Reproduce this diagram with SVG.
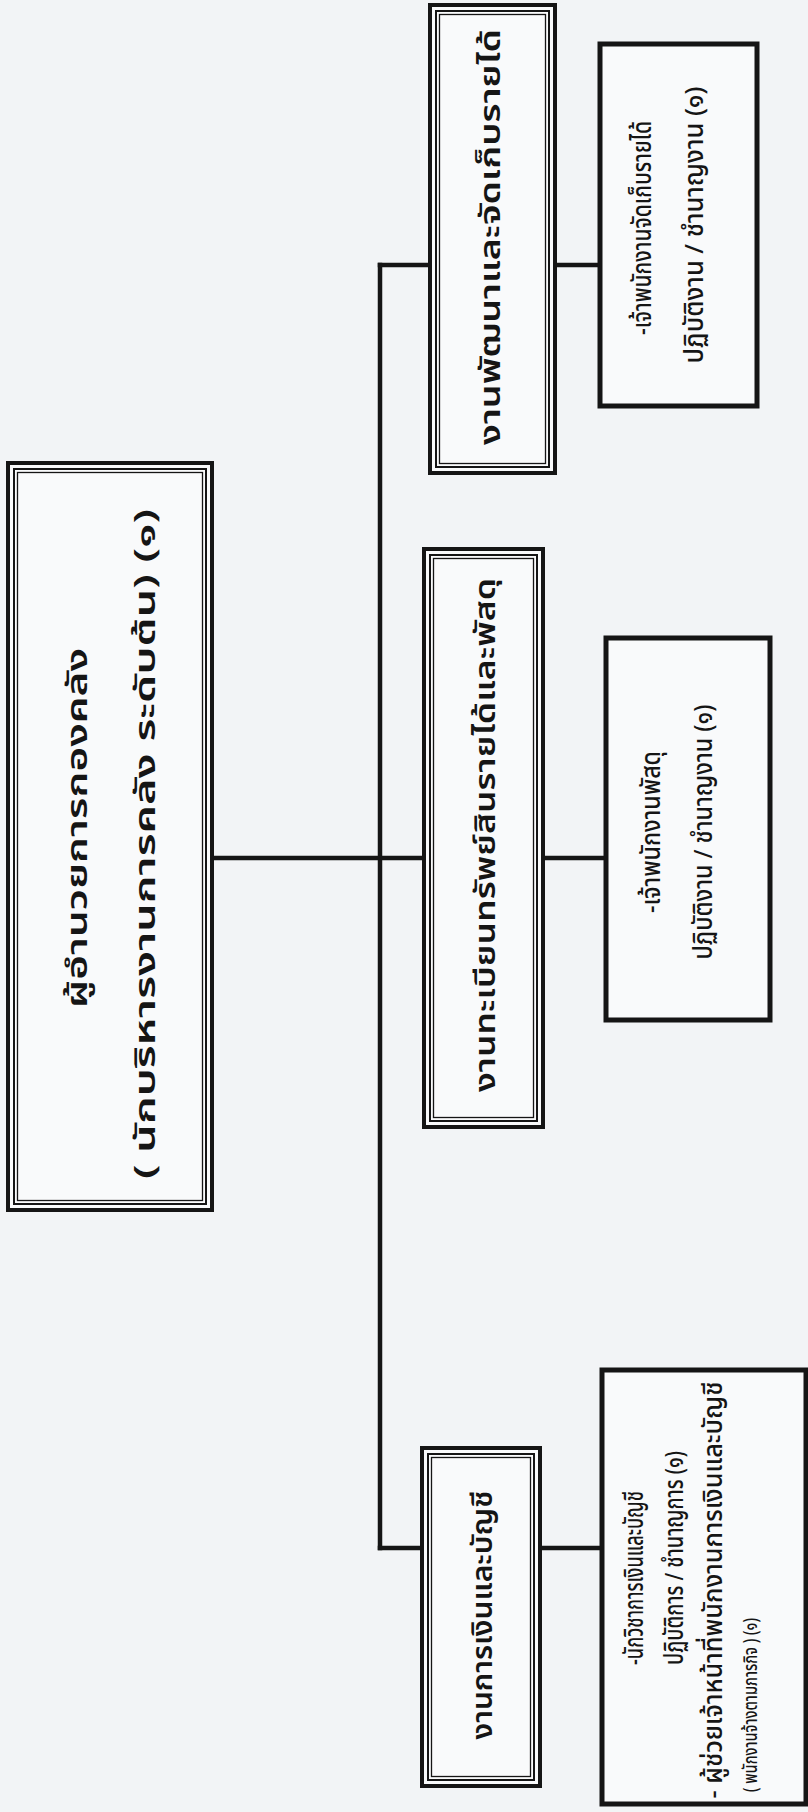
<svg xmlns="http://www.w3.org/2000/svg" width="808" height="1812" viewBox="0 0 808 1812">
<style>
.bg{fill:#f2f4f6}
.o{fill:#f9fafb;stroke:#151515;stroke-width:4}
.m{fill:none;stroke:#151515;stroke-width:2}
.i{fill:none;stroke:#151515;stroke-width:1.3}
.sb{fill:#f9fafb;stroke:#151515;stroke-width:5}
.c{fill:none;stroke:#151515;stroke-width:4.5;stroke-linecap:square}
text{font-family:"Noto Sans Thai","Noto Sans Thai UI","Loma","Garuda","Tlwg Typo","Noto Sans","DejaVu Sans",sans-serif;fill:#151515;text-anchor:middle;dominant-baseline:central}
.t1{font-size:29px;font-weight:600}
.t2{font-size:26px;font-weight:500}
.t3{font-size:19px;font-weight:500}
</style>
<rect class="bg" x="0" y="0" width="808" height="1812"/>
<g id="connectors">
<path class="c" d="M380 265 V1548"/>
<path class="c" d="M380 265 H430"/>
<path class="c" d="M555 265 H600"/>
<path class="c" d="M212 858 H424"/>
<path class="c" d="M543 858 H606"/>
<path class="c" d="M380 1548 H422"/>
<path class="c" d="M540 1548 H602"/>
</g>
<g id="director">
<rect class="o" x="8" y="463" width="204" height="747"/>
<rect class="m" x="14" y="469" width="192" height="735"/>
<rect class="i" x="17.5" y="472.5" width="185" height="728"/>
<text class="t1" transform="translate(78,828) rotate(-90)" textLength="360" lengthAdjust="spacingAndGlyphs">ผู้อำนวยการกองคลัง</text>
<text class="t1" transform="translate(146,844) rotate(-90)" textLength="670" lengthAdjust="spacingAndGlyphs">( นักบริหารงานการคลัง ระดับต้น) (๑)</text>
</g>
<g id="revenue">
<rect class="o" x="430" y="5" width="125" height="468"/>
<rect class="m" x="436" y="11" width="113" height="456"/>
<rect class="i" x="439.5" y="14.5" width="106" height="449"/>
<text class="t1" transform="translate(491,237) rotate(-90)" textLength="416" lengthAdjust="spacingAndGlyphs">งานพัฒนาและจัดเก็บรายได้</text>
</g>
<g id="revenue-staff">
<rect class="sb" x="600" y="44" width="157" height="362"/>
<text class="t2" transform="translate(643,228) rotate(-90)" textLength="214" lengthAdjust="spacingAndGlyphs">-เจ้าพนักงานจัดเก็บรายได้</text>
<text class="t2" transform="translate(695,225) rotate(-90)" textLength="277" lengthAdjust="spacingAndGlyphs">ปฏิบัติงาน / ชำนาญงาน (๑)</text>
</g>
<g id="registry">
<rect class="o" x="424" y="549" width="119" height="578"/>
<rect class="m" x="430" y="555" width="107" height="566"/>
<rect class="i" x="433.5" y="558.5" width="100" height="559"/>
<text class="t1" transform="translate(486,835) rotate(-90)" textLength="514" lengthAdjust="spacingAndGlyphs">งานทะเบียนทรัพย์สินรายได้และพัสดุ</text>
</g>
<g id="registry-staff">
<rect class="sb" x="606" y="638" width="164" height="382"/>
<text class="t2" transform="translate(652,832) rotate(-90)" textLength="162" lengthAdjust="spacingAndGlyphs">-เจ้าพนักงานพัสดุ</text>
<text class="t2" transform="translate(704,832) rotate(-90)" textLength="255" lengthAdjust="spacingAndGlyphs">ปฏิบัติงาน / ชำนาญงาน (๑)</text>
</g>
<g id="finance">
<rect class="o" x="422" y="1448" width="118" height="338"/>
<rect class="m" x="428" y="1454" width="106" height="326"/>
<rect class="i" x="431.5" y="1457.5" width="99" height="319"/>
<text class="t1" transform="translate(483,1615) rotate(-90)" textLength="249" lengthAdjust="spacingAndGlyphs">งานการเงินและบัญชี</text>
</g>
<g id="finance-staff">
<rect class="sb" x="602" y="1370" width="204" height="434"/>
<text class="t2" transform="translate(635,1578) rotate(-90)" textLength="174" lengthAdjust="spacingAndGlyphs">-นักวิชาการเงินและบัญชี</text>
<text class="t2" transform="translate(675,1558) rotate(-90)" textLength="214" lengthAdjust="spacingAndGlyphs">ปฏิบัติการ / ชำนาญการ (๑)</text>
<text class="t2" transform="translate(714,1590) rotate(-90)" textLength="417" lengthAdjust="spacingAndGlyphs">- ผู้ช่วยเจ้าหน้าที่พนักงานการเงินและบัญชี</text>
<text class="t3" transform="translate(751,1705) rotate(-90)" textLength="174" lengthAdjust="spacingAndGlyphs">( พนักงานจ้างตามภารกิจ ) (๑)</text>
</g>
</svg>
